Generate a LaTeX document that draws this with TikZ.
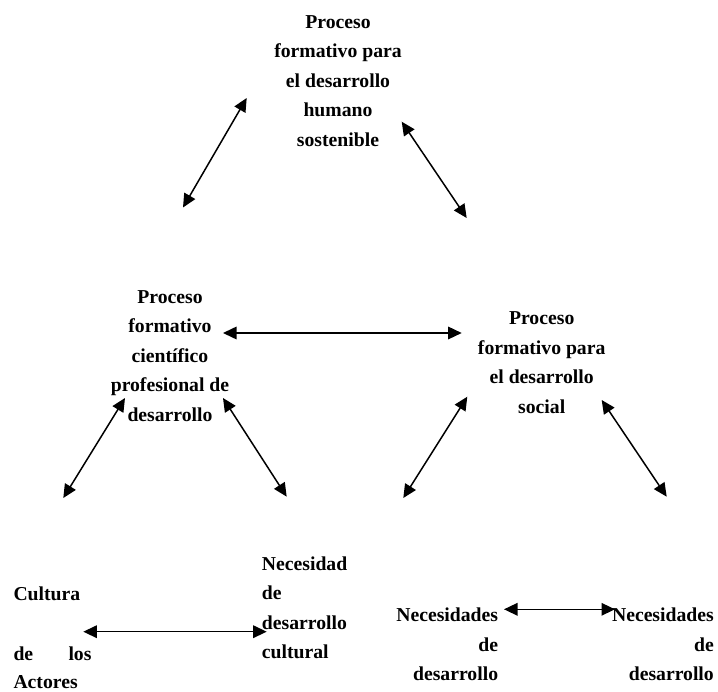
\documentclass[tikz,border=0pt]{standalone}
\usepackage{fontspec}
\setmainfont{Liberation Serif}
\usetikzlibrary{arrows.meta}
\begin{document}
\begin{tikzpicture}[x=1pt,y=-1pt,
  txt/.style={inner sep=0pt, font=\fontsize{19.7}{29.5}\selectfont\bfseries},
  dbl/.style={line width=1.5pt, {Triangle[length=13.5pt,width=12.5pt]}-{Triangle[length=13.5pt,width=12.5pt]}}]
\useasboundingbox (0,0) rectangle (718,692);
% text blocks
\node[txt, anchor=base] (top) at (338,28.3) {\begin{tabular}[t]{@{}c@{}}Proceso\\formativo para\\el desarrollo\\humano\\sostenible\end{tabular}};
\node[txt, anchor=base] (cient) at (170,303.3) {\begin{tabular}[t]{@{}c@{}}Proceso\\formativo\\científico\\profesional de\\desarrollo\end{tabular}};
\node[txt, anchor=base] (social) at (541.7,325) {\begin{tabular}[t]{@{}c@{}}Proceso\\formativo para\\el desarrollo\\social\end{tabular}};
\node[txt, anchor=base west] (cult) at (13.3,600) {Cultura};
\node[txt, anchor=base west] (de1) at (13.3,660) {de};
\node[txt, anchor=base east] (los) at (91.7,660) {los};
\node[txt, anchor=base west] (act) at (13.3,688.3) {Actores};
\node[txt, anchor=base west] (necc) at (261.7,570) {\begin{tabular}[t]{@{}l@{}}Necesidad\\de\\desarrollo\\cultural\end{tabular}};
\node[txt, anchor=base east] (nec1) at (498.3,621.7) {\begin{tabular}[t]{@{}r@{}}Necesidades\\de\\desarrollo\end{tabular}};
\node[txt, anchor=base east] (nec2) at (714,621.7) {\begin{tabular}[t]{@{}r@{}}Necesidades\\de\\desarrollo\end{tabular}};
% arrow ends
\coordinate (a1s) at (246.7,98);   \coordinate (a1e) at (183,207.5);
\coordinate (a2s) at (401.7,121.7);\coordinate (a2e) at (466.7,218);
\coordinate (a3s) at (223,333);    \coordinate (a3e) at (461.7,333);
\coordinate (a4s) at (125,398);    \coordinate (a4e) at (63.3,498);
\coordinate (a5s) at (223,398);    \coordinate (a5e) at (286.7,496.7);
\coordinate (a6s) at (467.3,396.7);\coordinate (a6e) at (403.3,498);
\coordinate (a7s) at (601.7,400);  \coordinate (a7e) at (666.7,496.7);
\coordinate (a8s) at (83.3,631.7); \coordinate (a8e) at (266.7,631.7);
\coordinate (a9s) at (504,609.3);  \coordinate (a9e) at (615,609.3);
\foreach \i in {1,...,9} {\draw[dbl] (a\i s) -- (a\i e);}
\end{tikzpicture}
\end{document}
